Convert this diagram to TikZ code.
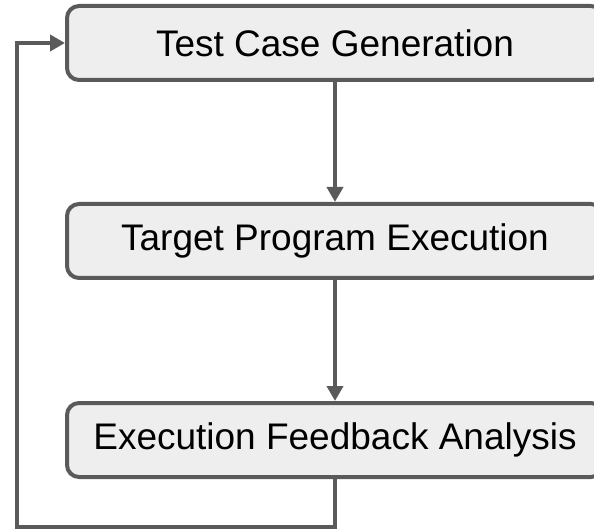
\documentclass[tikz,border=0pt]{standalone}
\usepackage{fontspec}
\setmainfont{Liberation Sans}
\usetikzlibrary{arrows.meta}
\definecolor{edgegray}{HTML}{5A5A5A}
\definecolor{boxfill}{HTML}{EEEEEE}
\tikzset{
  stage/.style={draw=edgegray, fill=boxfill, line width=4pt, rounded corners=12pt,
    minimum width=536pt, minimum height=74pt, font=\fontsize{37}{44}\selectfont},
  flow/.style={draw=edgegray, line width=4pt, -{Triangle[width=16pt,length=15pt]}}
}
\begin{document}
\begin{tikzpicture}[x=1pt,y=-1pt]
\useasboundingbox (0,0) rectangle (594,529);
\clip (0,0) rectangle (594,529);
\node[stage] (gen) at (335,43) {Test Case Generation};
\node[stage] (exec) at (335,241) {Target Program Execution};
\node[stage] (anal) at (335,440) {Execution Feedback Analysis};
\coordinate (loop) at (17,527);
\draw[flow] (gen) -- (exec);
\draw[flow] (exec) -- (anal);
\draw[flow] (anal.south) |- (loop) |- (gen.west);
\end{tikzpicture}
\end{document}
